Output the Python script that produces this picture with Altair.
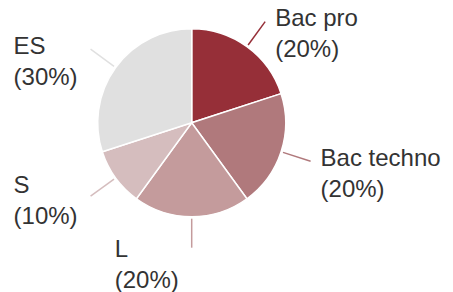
import altair as alt
import pandas as pd

# ---- data ----
categories = ["Bac pro", "Bac techno", "L", "S", "ES"]
shares = [20, 20, 20, 10, 30]
colors = ["#962f38", "#b0797c", "#c49b9c", "#d5bdbe", "#e0e0e0"]

# ---- layout (plot-area pixels) ----
W, H = 437, 284
CX, CY = 183.7, 114.7
R = 94
R1, R2 = 96, 125
label_nudge = {"S": -7.3, "L": 5.0}

df = pd.DataFrame({"cat": categories, "share": shares, "idx": list(range(len(categories)))})
df["nudge"] = df["cat"].map(label_nudge).fillna(0.0)

color = alt.Color("cat:N", scale=alt.Scale(domain=categories, range=colors), legend=None)
xs = alt.Scale(domain=[0, W], nice=False, zero=False)
ys = alt.Scale(domain=[0, H], reverse=True, nice=False, zero=False)

base = (
    alt.Chart(df)
    .transform_joinaggregate(total="sum(share)")
    .transform_window(cum="sum(share)", sort=[alt.SortField("idx")], frame=[None, 0])
    .transform_calculate(mid="2*PI*(datum.cum - datum.share/2)/datum.total")
    .transform_calculate(
        x1=f"{CX} + {R1}*sin(datum.mid)",
        y1=f"{CY} - {R1}*cos(datum.mid)",
        x2=f"{CX} + {R2}*sin(datum.mid)",
        y2=f"{CY} - {R2}*cos(datum.mid)",
    )
    .transform_calculate(
        lx="sin(datum.mid) > 0.01 ? datum.x2 + 10 : datum.x2 - 77",
        ly="datum.y2 + 4.5 + datum.nudge",
        label="datum.cat + '\\n(' + datum.share + '%)'",
    )
)

arc = (
    alt.Chart(df)
    .mark_arc(outerRadius=R, stroke="white", strokeWidth=1.5)
    .encode(
        theta=alt.Theta("share:Q", stack=True),
        order=alt.Order("idx:Q"),
        color=color,
        x=alt.value(CX),
        y=alt.value(CY),
    )
)

rule = base.mark_rule(strokeWidth=1.5).encode(
    x=alt.X("x1:Q", scale=xs, axis=None),
    y=alt.Y("y1:Q", scale=ys, axis=None),
    x2="x2:Q",
    y2="y2:Q",
    color=color,
)

text = base.mark_text(
    align="left",
    baseline="alphabetic",
    fontSize=24,
    font="Liberation Sans",
    lineHeight=31,
    lineBreak="\n",
    color="#333333",
).encode(
    x=alt.X("lx:Q", scale=xs, axis=None),
    y=alt.Y("ly:Q", scale=ys, axis=None),
    text="label:N",
)

chart = (
    alt.layer(arc, rule, text)
    .properties(width=W, height=H, padding=0, autosize="none")
    .configure_view(stroke=None)
)

chart.save("out.html", embed_options={"renderer": "svg", "actions": False})
